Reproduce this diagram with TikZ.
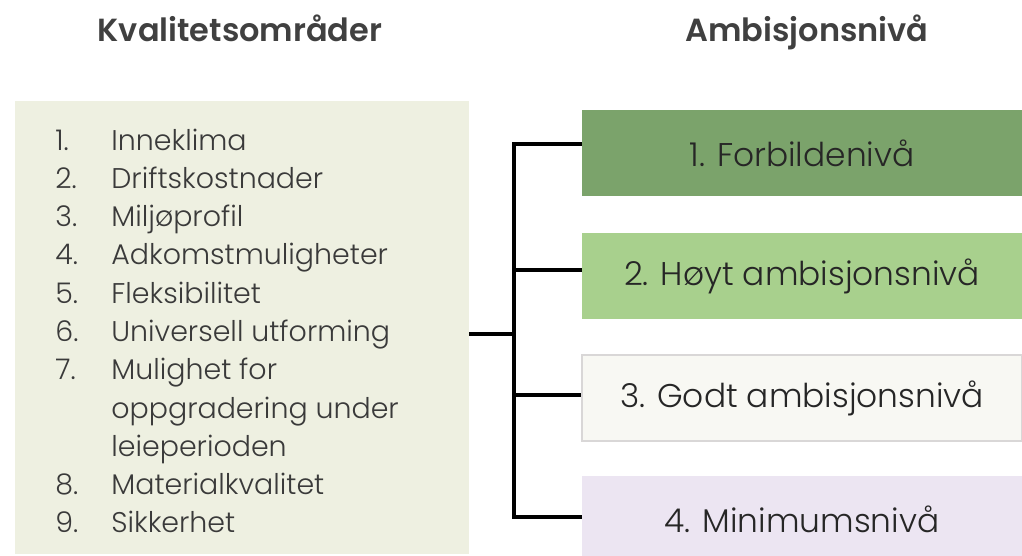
\documentclass[tikz,border=0pt]{standalone}
\usepackage{fontspec}
\setmainfont{Poppins}[UprightFont=* Light, BoldFont=* SemiBold]
\usepackage{xcolor}
\usetikzlibrary{positioning, calc}
\definecolor{kvalfill}{RGB}{238, 240, 225}
\definecolor{lvlone}{RGB}{123, 163, 107}
\definecolor{lvltwo}{RGB}{168, 208, 141}
\definecolor{lvlthree}{RGB}{248, 248, 243}
\definecolor{lvlframe}{RGB}{217, 215, 215}
\definecolor{lvlfour}{RGB}{236, 229, 242}
\definecolor{textgray}{RGB}{58, 58, 58}
\definecolor{headgray}{RGB}{64, 64, 64}

\tikzset{
  heading/.style={font=\bfseries\fontsize{18.2}{22}\selectfont, text=headgray, anchor=base, inner sep=0pt},
  listitem/.style={font=\fontsize{16.2}{20}\selectfont, text=textgray, anchor=base west, inner sep=0pt},
  lvlbox/.style={rectangle, minimum width=8.8cm, minimum height=1.72cm, inner sep=0pt,
    font=\fontsize{18.7}{22}\selectfont, text=black!85},
  bracket/.style={line width=2.5pt, line join=miter}
}

\begin{document}
\begin{tikzpicture}[x=0.02cm, y=-0.02cm]
  \useasboundingbox (0,0) rectangle (1022,555);

  % overskrifter
  \node[heading] (hkval) at (240,41) {Kvalitetsområder};
  \node[heading] (hamb) at (807,41) {Ambisjonsnivå};

  % boks med kvalitetsområder
  \node[rectangle, fill=kvalfill, minimum width=9.08cm, minimum height=9.06cm, inner sep=0pt] (kval) at (242,327.5) {};
  \foreach \num/\txt/\yy in {1./Inneklima/150, 2./Driftskostnader/188, 3./Miljøprofil/226,
      4./Adkomstmuligheter/264, 5./Fleksibilitet/303, 6./Universell utforming/341,
      7./Mulighet for/379, /oppgradering under/418, /leieperioden/456,
      8./Materialkvalitet/494, 9./Sikkerhet/532}{
    \node[listitem] (num\yy) at (55,\yy) {\num};
    \node[listitem] (item\yy) at (111,\yy) {\txt};
  }

  % ambisjonsnivåer
  \node[lvlbox, fill=lvlone] (lvl1) at (802,153) {1. Forbildenivå};
  \node[lvlbox, fill=lvltwo] (lvl2) at (802,276) {2. Høyt ambisjonsnivå};
  \node[lvlbox, fill=lvlthree, draw=lvlframe, line width=1.1pt] (lvl3) at (802,398) {3. Godt ambisjonsnivå};
  \node[lvlbox, fill=lvlfour] (lvl4) at (802,519) {4. Minimumsnivå};

  % klamme mellom boksene
  \coordinate (bus) at (514,334);
  \draw[bracket] (kval.east |- bus) -- (bus);
  \draw[bracket] (bus) |- ([yshift=0.18cm]lvl1.west);
  \draw[bracket] (bus) |- ([yshift=0.12cm]lvl2.west);
  \draw[bracket] (bus) |- ([yshift=0.06cm]lvl3.west);
  \draw[bracket] (bus) |- ([yshift=0.04cm]lvl4.west);
\end{tikzpicture}
\end{document}
